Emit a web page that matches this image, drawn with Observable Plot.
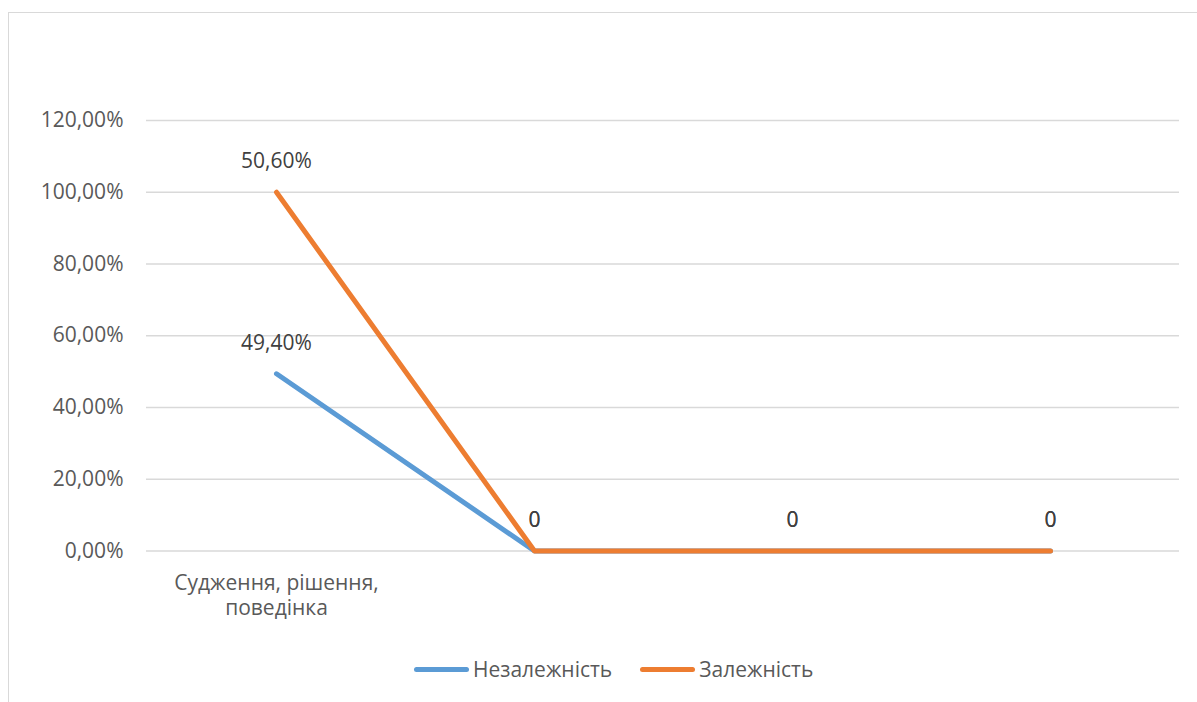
<!DOCTYPE html>
<html>
<head>
<meta charset="utf-8">
<script src="https://cdn.jsdelivr.net/npm/d3@7"></script>
<script src="https://cdn.jsdelivr.net/npm/@observablehq/plot@0.6"></script>
<style>
  html, body { margin: 0; padding: 0; background: #fff; }
  body { width: 1197px; height: 702px; overflow: hidden; position: relative; font-family: "Open Sans", sans-serif; }
  #frame {
    position: absolute; left: 8px; top: 12px; width: 1200px; height: 700px;
    border-left: 1px solid #d9d9d9; border-top: 1px solid #d9d9d9;
  }
  #chart { position: absolute; left: 0; top: 0; }
  #legend {
    position: absolute; left: 405px; top: 641px; height: 30px;
    display: flex; align-items: center; font-size: 21px; color: #595959;
  }
  .item { display: flex; align-items: center; margin-right: 28px; }
  .swatch { width: 55px; height: 5px; border-radius: 3px; margin-right: 4px; }
</style>
</head>
<body>
<div id="frame">
  <div id="chart"></div>
  <div id="legend"></div>
</div>
<script>
// Categories along the x axis (only the first one carries a name)
const categories = ["Судження, рішення, поведінка", "", "", ""];
// Series names, in stacking order (bottom to top)
const seriesNames = ["Незалежність", "Залежність"];
const seriesColors = ["#5B9BD5", "#ED7D31"];
// Shares for each category
const independence = [0.494, 0, 0, 0];
const dependence = [0.506, 0, 0, 0];
// Y axis ticks
const yTicks = [0, 0.2, 0.4, 0.6, 0.8, 1.0, 1.2];

const rows = [];
[independence, dependence].forEach((vals, s) => {
  vals.forEach((v, i) => rows.push({cat: i, series: seriesNames[s], value: v}));
});

const pct = v => (v * 100).toFixed(2).replace(".", ",") + "%";
const labelFmt = v => v === 0 ? "0" : pct(v);

// Stacked lines: each series is drawn at the top of its stack segment
const stackOpts = {x: "cat", y: "value", z: "series", order: seriesNames};

const chart = Plot.plot({
  width: 1188,
  height: 630,
  marginLeft: 137,
  marginRight: 18,
  marginTop: 107,
  marginBottom: 92.5,
  style: {fontFamily: "'Open Sans', sans-serif", fontSize: "21px", color: "#595959", background: "transparent"},
  x: {type: "point", domain: d3.range(categories.length), padding: 0.5},
  y: {domain: [0, 1.2]},
  color: {domain: seriesNames, range: seriesColors},
  marks: [
    Plot.gridY(yTicks, {stroke: "#d9d9d9", strokeOpacity: 1, strokeWidth: 1.3}),
    Plot.axisY(yTicks, {tickSize: 0, tickPadding: 23, tickFormat: pct, fill: "#595959", label: null, fontSize: 21}),
    Plot.axisX({tickSize: 0, tickPadding: 21, tickFormat: i => categories[i], fill: "#595959", label: null, fontSize: 21, lineWidth: 10.5, lineHeight: 1.2}),
    Plot.lineY(rows, {...Plot.stackY2(stackOpts), stroke: "series", strokeWidth: 5, strokeLinecap: "round", strokeLinejoin: "round"}),
    Plot.text(rows, {...Plot.stackY2({...stackOpts, text: d => labelFmt(d.value)}), dy: -31, fill: "#404040", fontSize: 21})
  ]
});
document.getElementById("chart").appendChild(chart);

const legend = document.getElementById("legend");
seriesNames.forEach((name, s) => {
  const item = document.createElement("div");
  item.className = "item";
  const sw = document.createElement("div");
  sw.className = "swatch";
  sw.style.background = seriesColors[s];
  const t = document.createElement("span");
  t.textContent = name;
  item.appendChild(sw);
  item.appendChild(t);
  legend.appendChild(item);
});
</script>
</body>
</html>
